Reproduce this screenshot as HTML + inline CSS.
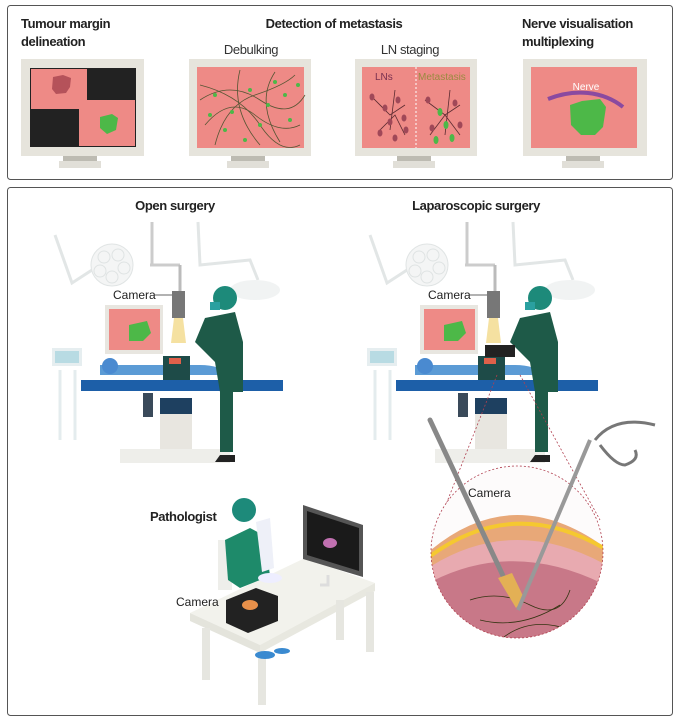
<!DOCTYPE html>
<html><head><meta charset="utf-8"><style>
body{margin:0;background:#fff}
svg{display:block}
text{font-family:"Liberation Sans",sans-serif}
</style></head><body>
<svg width="680" height="719" viewBox="0 0 680 719" xmlns="http://www.w3.org/2000/svg">
<rect x="0" y="0" width="680" height="719" fill="#fff"/>
<rect x="7.5" y="5.5" width="665" height="174" rx="3" fill="#fff" stroke="#555" stroke-width="1"/>
<g font-weight="bold" font-size="13" fill="#222" letter-spacing="-0.4">
<text x="21" y="28">Tumour margin</text>
<text x="21" y="46">delineation</text>
<text x="334" y="28" text-anchor="middle">Detection of metastasis</text>
<text x="522" y="28">Nerve visualisation</text>
<text x="522" y="46">multiplexing</text>
</g>
<g font-size="13" fill="#333" letter-spacing="-0.4">
<text x="251" y="54" text-anchor="middle">Debulking</text>
<text x="410" y="54" text-anchor="middle">LN staging</text>
</g>
<g fill="#e6e4dc">
<rect x="21" y="59" width="123" height="97"/><rect x="189" y="59" width="122" height="97"/>
<rect x="355" y="59" width="122" height="97"/><rect x="523" y="59" width="124" height="97"/>
</g>
<g fill="#bdbbb2">
<rect x="63" y="156" width="34" height="5"/><rect x="231" y="156" width="34" height="5"/>
<rect x="397" y="156" width="34" height="5"/><rect x="566" y="156" width="34" height="5"/>
</g>
<g fill="#e1dfd8">
<rect x="59" y="161" width="42" height="7"/><rect x="227" y="161" width="42" height="7"/>
<rect x="393" y="161" width="42" height="7"/><rect x="562" y="161" width="42" height="7"/>
</g>
<rect x="30" y="68" width="106" height="79" fill="#222"/>
<rect x="31" y="69" width="56" height="40" fill="#ee8a86"/>
<rect x="79" y="100" width="56" height="46" fill="#ee8a86"/>
<path d="M53 77 l10 -2 8 3 -1 9 -4 6 -10 1 -4 -5z" fill="#b5525a"/>
<path d="M100 117 l12 -3 6 4 -2 12 -9 4 -7 -6z" fill="#4db848"/>
<rect x="197" y="67" width="107" height="81" fill="#ee8a86"/>
<g stroke="#553" stroke-width="0.8" fill="none">
<path d="M200 100 q30 -20 60 0 t45 -5"/><path d="M205 125 q25 -30 50 -10 t45 10"/>
<path d="M215 145 q10 -40 40 -50 t40 -20"/><path d="M200 85 q40 10 60 40 t40 20"/>
<path d="M240 70 q-10 40 20 75"/><path d="M275 72 q-20 30 5 70"/>
</g>
<g fill="#4db848">
<circle cx="215" cy="95" r="2"/><circle cx="232" cy="112" r="2"/><circle cx="250" cy="90" r="2"/><circle cx="268" cy="105" r="2"/>
<circle cx="285" cy="95" r="2"/><circle cx="225" cy="130" r="2"/><circle cx="260" cy="125" r="2"/><circle cx="290" cy="120" r="2"/>
<circle cx="245" cy="140" r="2"/><circle cx="275" cy="82" r="2"/><circle cx="210" cy="115" r="2"/><circle cx="298" cy="85" r="2"/>
</g>
<rect x="362" y="67" width="108" height="81" fill="#ee8a86"/>
<line x1="416" y1="67" x2="416" y2="148" stroke="#fff" stroke-dasharray="2,2"/>
<text x="375" y="80" font-size="10" fill="#7a3050">LNs</text>
<text x="418" y="80" font-size="10" fill="#9a8a40">Metastasis</text>
<g stroke="#5a2a30" stroke-width="0.8" fill="none">
<path d="M370 95 l20 20 l15 -10 M380 130 l15 -15 l10 20 M395 90 l-5 40"/>
<path d="M425 100 l20 15 l15 -10 M430 135 l15 -20 l15 20 M450 90 l-5 45"/>
</g>
<g fill="#a04858">
<ellipse cx="372" cy="97" rx="2.5" ry="3.5"/><ellipse cx="385" cy="108" rx="2.5" ry="3.5"/><ellipse cx="398" cy="100" rx="2.5" ry="3.5"/>
<ellipse cx="390" cy="122" rx="2.5" ry="3.5"/><ellipse cx="404" cy="118" rx="2.5" ry="3.5"/><ellipse cx="380" cy="133" rx="2.5" ry="3.5"/>
<ellipse cx="395" cy="138" rx="2.5" ry="3.5"/><ellipse cx="406" cy="130" rx="2.5" ry="3.5"/>
<ellipse cx="428" cy="100" rx="2.5" ry="3.5"/><ellipse cx="455" cy="103" rx="2.5" ry="3.5"/><ellipse cx="432" cy="128" rx="2.5" ry="3.5"/><ellipse cx="460" cy="125" rx="2.5" ry="3.5"/>
</g>
<g fill="#4db848">
<ellipse cx="440" cy="112" rx="2.5" ry="4"/><ellipse cx="446" cy="125" rx="2.5" ry="4"/><ellipse cx="452" cy="138" rx="2.5" ry="4"/><ellipse cx="436" cy="140" rx="2.5" ry="4"/>
</g>
<rect x="531" y="67" width="106" height="81" fill="#ee8a86"/>
<path d="M570 105 l12 -4 18 -2 6 8 -3 20 -8 8 -14 0 -10 -10z" fill="#4db848"/>
<path d="M548 99 q20 -8 40 -6 t35 14" stroke="#8a4aa0" stroke-width="4" fill="none"/>
<text x="586" y="90" font-size="10" fill="#fff" text-anchor="middle">Nerve</text>

<rect x="7.5" y="187.5" width="665" height="528" rx="3" fill="#fff" stroke="#555" stroke-width="1"/>
<g font-weight="bold" font-size="13" fill="#222" letter-spacing="-0.4">
<text x="175" y="210" text-anchor="middle">Open surgery</text>
<text x="476" y="210" text-anchor="middle">Laparoscopic surgery</text>
<text x="150" y="521">Pathologist</text>
</g>

<g id="or">
<g stroke="#e2e6e6" stroke-width="3" fill="none">
<path d="M55 235 L72 283 L92 270"/><path d="M198 222 L200 265 L250 260 L258 280"/>
</g>
<circle cx="112" cy="265" r="21" fill="#f4f5f5" stroke="#e0e4e4"/>
<g fill="none" stroke="#dfe3e3"><circle cx="104" cy="257" r="6"/><circle cx="118" cy="255" r="6"/><circle cx="124" cy="268" r="6"/><circle cx="112" cy="277" r="6"/><circle cx="100" cy="271" r="6"/></g>
<ellipse cx="255" cy="290" rx="25" ry="10" fill="#f1f3f3"/>
<line x1="152" y1="222" x2="152" y2="265" stroke="#ccc" stroke-width="3"/>
<line x1="150" y1="265" x2="180" y2="265" stroke="#ccc" stroke-width="3"/>
<line x1="180" y1="265" x2="180" y2="292" stroke="#bbb" stroke-width="3"/>
<rect x="172" y="291" width="13" height="27" fill="#777"/>
<path d="M174 318 h9 l3 25 h-15z" fill="#f3d98a" opacity=".8"/>
<text x="113" y="299" font-size="12" fill="#222">Camera</text>
<line x1="154" y1="295" x2="172" y2="295" stroke="#333" stroke-width="0.8"/>
<rect x="105" y="305" width="58" height="49" fill="#e8e6e0"/>
<rect x="109" y="309" width="51" height="41" fill="#ee8a86"/>
<path d="M129 325 l18 -4 4 12 -8 8 -14 0z" fill="#4db848"/>
<rect x="52" y="348" width="30" height="18" fill="#e6eef0"/>
<rect x="55" y="351" width="24" height="12" fill="#b8dbe3"/>
<path d="M60 370 v70 M75 370 v70" stroke="#e4ecee" stroke-width="3"/>
<path d="M100 365 h100 q20 0 30 10 h-130z" fill="#5b9bd5"/>
<circle cx="110" cy="366" r="8" fill="#4a8ad0"/>
<rect x="163" y="356" width="27" height="28" fill="#1e4b48"/>
<rect x="169" y="358" width="12" height="6" fill="#e0604a"/>
<rect x="81" y="380" width="202" height="11" fill="#1d5fa8"/>
<rect x="143" y="393" width="10" height="24" fill="#3a4a5a"/>
<rect x="160" y="398" width="32" height="16" fill="#1e4060"/>
<rect x="160" y="414" width="32" height="35" fill="#e8e6e0"/>
<rect x="120" y="449" width="110" height="14" fill="#eeeeea"/>
<circle cx="225" cy="298" r="12" fill="#1d8a7a"/>
<rect x="210" y="302" width="10" height="8" fill="#2aa0a0"/>
<path d="M205 318 l30 -6 8 30 v50 l-10 0 v60 h-13 v-60 l-5 -30 l-20 -20z" fill="#1e5a48"/>
<path d="M220 455 h15 v7 h-20z" fill="#222"/>
</g>
<use href="#or" x="315" y="0"/>
<rect x="485" y="345" width="30" height="12" fill="#222"/>

<line x1="497" y1="375" x2="432" y2="540" stroke="#b04050" stroke-width="0.8" stroke-dasharray="2,2"/>
<line x1="520" y1="375" x2="600" y2="520" stroke="#b04050" stroke-width="0.8" stroke-dasharray="2,2"/>
<clipPath id="cc"><circle cx="517" cy="552" r="86"/></clipPath>
<circle cx="517" cy="552" r="86" fill="#fdfbfb"/>
<g clip-path="url(#cc)">
<path d="M425 555 q90 -80 190 0 v100 h-190z" fill="#e8a878"/>
<path d="M425 560 q90 -70 190 -5" stroke="#f5c830" stroke-width="4" fill="none"/>
<path d="M425 570 q90 -60 190 0 v100 h-190z" fill="#e8aab0"/>
<path d="M425 585 q90 -50 190 5 v100 h-190z" fill="#c87888"/>
<g stroke="#331" stroke-width="0.8" fill="none">
<path d="M470 600 q30 -10 60 5 t40 -15"/><path d="M480 620 q40 10 80 -15"/><path d="M500 640 q30 -25 70 -10"/>
</g>
</g>
<circle cx="517" cy="552" r="86" fill="none" stroke="#b04050" stroke-width="0.8" stroke-dasharray="2,2"/>
<line x1="430" y1="420" x2="505" y2="580" stroke="#888" stroke-width="5" stroke-linecap="round"/>
<path d="M498 578 l14 -5 12 25 -8 10z" fill="#e3b055"/>
<line x1="590" y1="440" x2="518" y2="610" stroke="#999" stroke-width="4"/>
<path d="M595 440 q20 -25 60 -15 M600 445 q15 20 25 20 q15 -5 10 -15" stroke="#777" stroke-width="3" fill="none"/>
<text x="468" y="497" font-size="12" fill="#222">Camera</text>

<!-- pathologist desk -->
<path d="M190 613 l115 -55 70 25 -115 62z" fill="#f2f2ec"/>
<path d="M190 613 v8 l70 32 v-8z" fill="#e4e4dc"/>
<path d="M260 645 l115 -62 v8 l-115 62z" fill="#e8e8e0"/>
<path d="M206 628 v52 M262 655 v50 M370 592 v60 M340 600 v40" stroke="#e6e6e0" stroke-width="8"/>
<path d="M218 540 h14 v50 h-14z" fill="#eeeeea"/>
<circle cx="244" cy="510" r="12" fill="#1d8a7a"/>
<path d="M225 540 l25 -12 15 8 5 40 -30 12 -12 -8z" fill="#1e8a6a"/>
<path d="M256 522 l14 -4 4 50 -12 4z" fill="#eef0f8"/>
<ellipse cx="270" cy="578" rx="12" ry="5" fill="#eef"/>
<path d="M303 505 l60 20 v52 l-60 -18z" fill="#555"/>
<path d="M307 511 l52 17 v43 l-52 -16z" fill="#1a1a1a"/>
<ellipse cx="330" cy="543" rx="7" ry="5" fill="#c070b0"/>
<path d="M328 575 v10 h-8" stroke="#ddd" stroke-width="3" fill="none"/>
<path d="M226 600 l30 -12 22 8 v25 l-30 12 -22 -10z" fill="#222"/>
<ellipse cx="250" cy="605" rx="8" ry="5" fill="#e8904a"/>
<text x="176" y="606" font-size="12" fill="#222">Camera</text>
<ellipse cx="265" cy="655" rx="10" ry="4" fill="#3a8ad0"/>
<ellipse cx="282" cy="651" rx="8" ry="3" fill="#3a8ad0"/>
</svg>
</body></html>
